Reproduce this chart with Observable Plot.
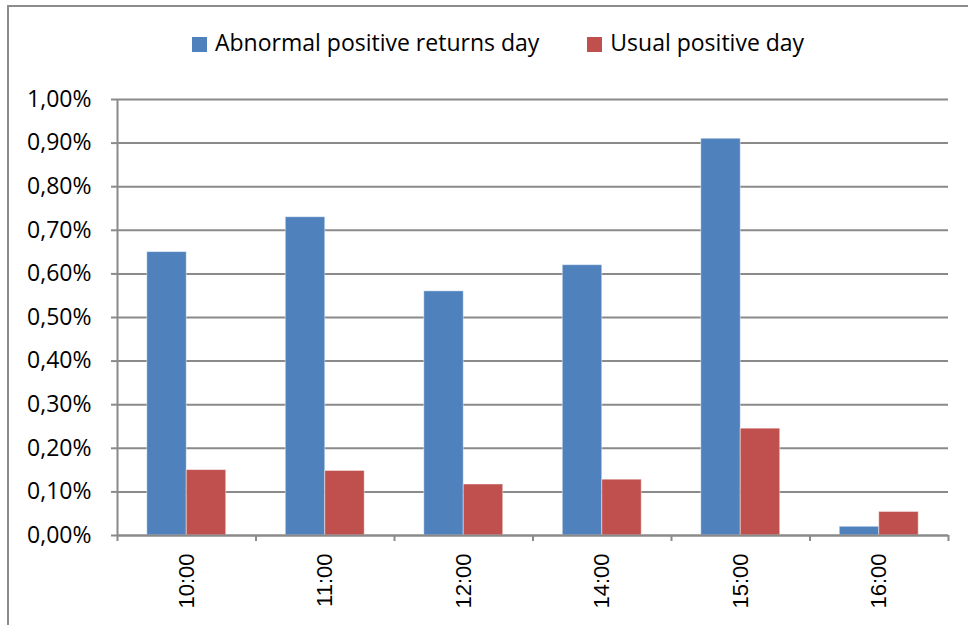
<!DOCTYPE html>
<html>
<head>
<meta charset="utf-8">
<script src="https://cdn.jsdelivr.net/npm/d3@7"></script>
<script src="https://cdn.jsdelivr.net/npm/@observablehq/plot@0.6"></script>
<style>
  html, body { margin: 0; padding: 0; background: #fff; }
  body { width: 968px; height: 625px; position: relative; overflow: hidden; }
  #frame { position: absolute; left: 7px; top: 5px; width: 1100px; height: 800px;
           border-top: 2px solid #8c8c8c; border-left: 2px solid #8c8c8c; }
  #legend { position: absolute; left: 192px; top: 31px; display: flex; align-items: center;
            font-family: "Open Sans", sans-serif; font-size: 23px; line-height: 23px; color: #000; }
  .sw { width: 15px; height: 15px; display: inline-block; margin-right: 8px; position: relative; top: 2px; }
  .item { display: flex; align-items: center; }
  #chart { position: absolute; left: 0; top: 80px; }
</style>
</head>
<body>
<div id="frame"></div>
<div id="legend"></div>
<div id="chart"></div>
<script>
const categories = ["10:00", "11:00", "12:00", "14:00", "15:00", "16:00"];
const seriesNames = ["Abnormal positive returns day", "Usual positive day"];
const abnormal = [0.65, 0.73, 0.56, 0.62, 0.91, 0.02];
const usual = [0.15, 0.148, 0.117, 0.128, 0.245, 0.054];
const colors = ["#4F81BD", "#C0504D"];
const yTicks = [0, 0.1, 0.2, 0.3, 0.4, 0.5, 0.6, 0.7, 0.8, 0.9, 1.0];

const data = [];
categories.forEach((c, i) => {
  data.push({i, s: 0, v: abnormal[i]});
  data.push({i, s: 1, v: usual[i]});
});

const grid = "#8a8a8a";
const fmt = d => d.toFixed(2).replace(".", ",") + "%";

const plot = Plot.plot({
  width: 968,
  height: 545,
  marginTop: 19,
  marginBottom: 90,
  marginLeft: 117,
  marginRight: 20,
  style: {fontFamily: "Liberation Sans, Arial, sans-serif", background: "transparent", overflow: "visible"},
  x: {type: "linear", domain: [0, categories.length], axis: null},
  y: {domain: [0, 1], axis: null},
  marks: [
    Plot.gridY(yTicks, {stroke: grid, strokeOpacity: 1, strokeWidth: 2}),
    Plot.axisY(yTicks, {tickFormat: fmt, tickSize: 6, tickPadding: 20, stroke: grid, strokeWidth: 2,
      fill: "#000", fontSize: 23, fontFamily: "Open Sans, sans-serif", label: null}),
    Plot.rectY(data, {
      x1: d => d.i + (d.s === 0 ? 0.215 : 0.5),
      x2: d => d.i + (d.s === 0 ? 0.5 : 0.785),
      y: "v",
      fill: d => colors[d.s],
      stroke: "#ffffff", strokeOpacity: 0.45, strokeWidth: 1
    }),
    Plot.ruleX([0], {y1: 0, y2: 1, stroke: grid, strokeWidth: 2}),
    Plot.ruleY([0], {stroke: grid, strokeWidth: 2}),
    Plot.axisX(d3.range(categories.length + 1), {tickFormat: () => "", tickSize: 6, stroke: grid, strokeWidth: 2, label: null}),
    Plot.axisX(categories.map((c, i) => i + 0.5), {
      tickFormat: d => categories[Math.floor(d)], tickSize: 0, tickPadding: 18, tickRotate: -90,
      fill: "#000", fontSize: 22, label: null
    })
  ]
});
document.getElementById("chart").appendChild(plot);

const legend = document.getElementById("legend");
seriesNames.forEach((name, k) => {
  const item = document.createElement("div");
  item.className = "item";
  if (k > 0) item.style.marginLeft = "48px";
  const sw = document.createElement("span");
  sw.className = "sw";
  sw.style.background = colors[k];
  const t = document.createElement("span");
  t.textContent = name;
  item.appendChild(sw);
  item.appendChild(t);
  legend.appendChild(item);
});
</script>
</body>
</html>
